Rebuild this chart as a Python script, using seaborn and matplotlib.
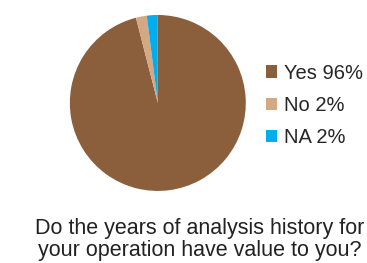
import matplotlib
matplotlib.use("Agg")
import matplotlib.pyplot as plt
import seaborn as sns

labels = ["Yes", "No", "NA"]
values = [96, 2, 2]
colors = ["#8B5E3C", "#D4A883", "#00AEEF"]
question = "Do the years of analysis history for\nyour operation have value to you?"

sns.set_theme(style="white")
plt.rcParams["font.family"] = ["Liberation Sans", "DejaVu Sans"]

fig = plt.figure(figsize=(3.67, 2.63), dpi=100)
ax = fig.add_axes([0.19, 0.274, 0.48, 0.669])

wedges, _ = ax.pie(values, colors=colors, startangle=90, counterclock=False,
                   wedgeprops=dict(linewidth=0))
ax.set_xlim(-1, 1)
ax.set_ylim(-1, 1)
ax.set_aspect("equal")

legend_labels = ["{} {}%".format(l, v) for l, v in zip(labels, values)]
fig.legend(wedges, legend_labels, loc="center left", bbox_to_anchor=(0.725, 0.6),
           frameon=False, fontsize=14.5, handlelength=0.55, handleheight=0.55,
           handletextpad=0.35, labelspacing=0.65, borderaxespad=0, borderpad=0)

fig.text(0.545, 0.09, question, ha="center", va="center", fontsize=15.5,
         color="#222222", linespacing=1.05)

fig.savefig("out.png", dpi=100)
